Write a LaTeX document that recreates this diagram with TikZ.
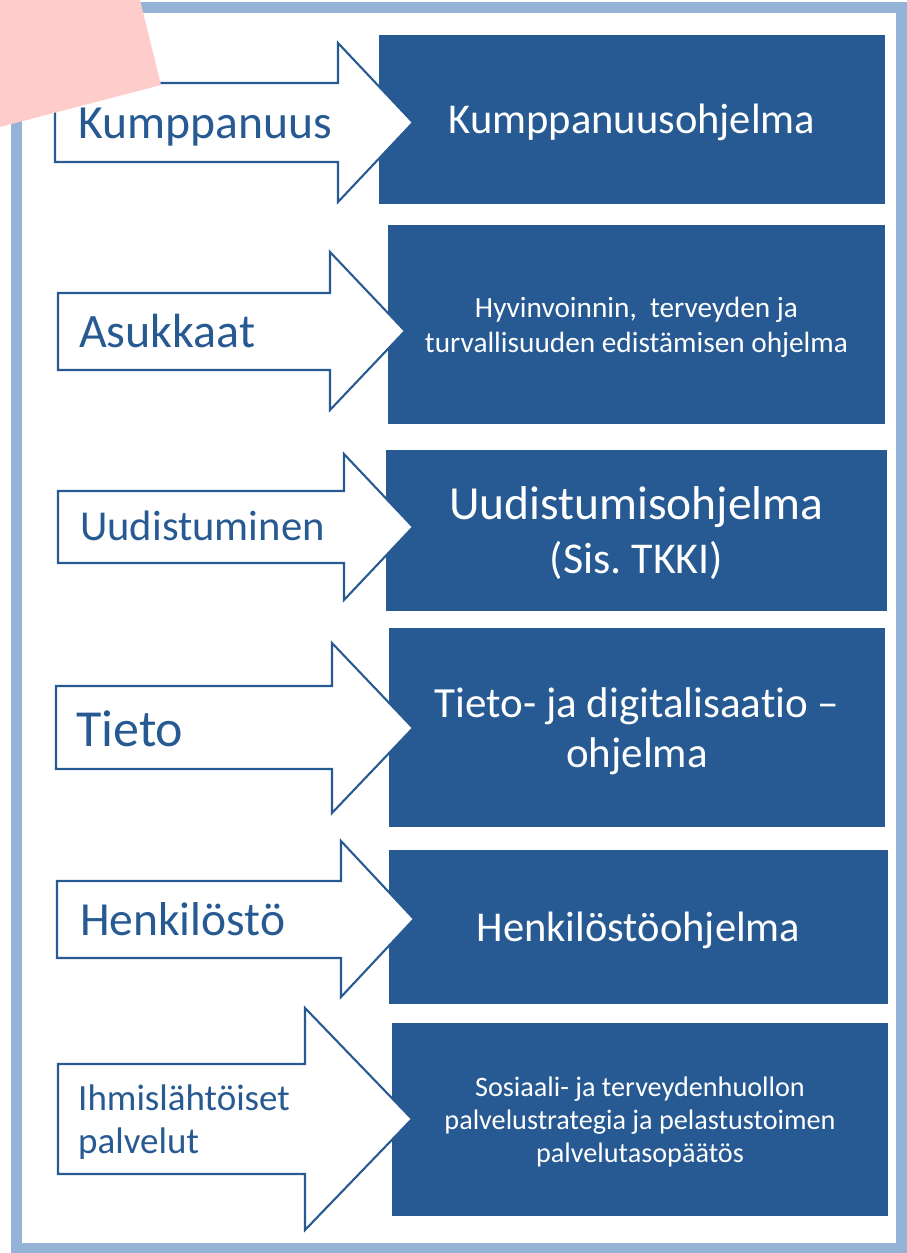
\documentclass[tikz,border=0pt]{standalone}
\usepackage{fontspec}
\setmainfont{Carlito}[Ligatures=NoCommon]
\definecolor{progblue}{RGB}{39,90,146}
\definecolor{frameblue}{RGB}{149,179,215}
\definecolor{notepink}{RGB}{255,204,204}
\newcommand{\fs}[2]{\fontsize{#1}{#2}\selectfont}

\begin{document}
\begin{tikzpicture}[x=1pt, y=-1pt,
    prog/.style={rectangle, fill=progblue, text=white, inner sep=0pt, align=center, text depth=0pt},
    flow/.style={draw=progblue, line width=2.1pt, fill=white, line join=miter},
    lbl/.style={anchor=base west, text=progblue, inner sep=0pt, align=left}]
  \useasboundingbox (0,0) rectangle (907,1253);
  \draw[frameblue, line width=11pt] (16.5,7.5) rectangle (901.5,1248.5);

  % programmes
  \node[prog, font=\fs{42.5}{50}, minimum width=506pt, minimum height=169pt] (p1) at (632,119)
    {Kumppanuusohjelma};
  \node[prog, font=\fs{29.3}{35}, minimum width=497pt, minimum height=199pt] (p2) at (636.5,324.5)
    {Hyvinvoinnin,~ terveyden ja\\turvallisuuden edistämisen ohjelma};
  \node[prog, font=\fs{47.5}{54}, minimum width=501pt, minimum height=161pt] (p3) at (636.5,530.5)
    {Uudistumisohjelma\\{\fs{44}{54}(Sis.\ TKKI)}};
  \node[prog, font=\fs{43}{50}, minimum width=496pt, minimum height=199pt] (p4) at (637,727.5)
    {Tieto- ja digitalisaatio –\\ohjelma};
  \node[prog, font=\fs{42.5}{50}, minimum width=499pt, minimum height=154pt] (p5) at (638.5,927)
    {Henkilöstöohjelma};
  \node[prog, font=\fs{28.2}{33}, minimum width=496pt, minimum height=193pt] (p6) at (640,1119.5)
    {Sosiaali- ja terveydenhuollon\\palvelustrategia ja pelastustoimen\\palvelutasopäätös};

  % arrows: left/top/bottom/head x/head top/head bottom/tip x
  \foreach \l/\t/\b/\h/\ht/\hb/\tx in {55/83/162/338/43/202/413,
      58/293/370/330/252/410/405, 58/491/563/344/454/600/413,
      56/686/769/332/643/813/413, 57/881/958/341/841/997/414,
      58/1064/1174/305/1008/1230/412} {
      \draw[flow] (\l,\t) -| (\h,\ht) -- (\tx,{(\ht+\hb)/2}) -- (\h,\hb) |- (\l,\b) -- cycle;
    }

  \node[lbl, font=\fs{47.6}{57}] (l1) at (78,138) {Kumppanuus};
  \node[lbl, font=\fs{48}{57}] (l2) at (79,347) {Asukkaat};
  \node[lbl, font=\fs{42.6}{50}] (l3) at (80,540) {Uudistuminen};
  \node[lbl, font=\fs{52}{62}] (l4) at (76,746) {Tieto};
  \node[lbl, font=\fs{47.5}{57}] (l5) at (80,935) {Henkilöstö};
  \node[lbl, font=\fs{37}{43}] (l6) at (78,1153) {Ihmislähtöiset\\palvelut};

  \fill[notepink] (0,0) -- (140,0) -- (161,85) -- (0,127) -- cycle;
\end{tikzpicture}
\end{document}
